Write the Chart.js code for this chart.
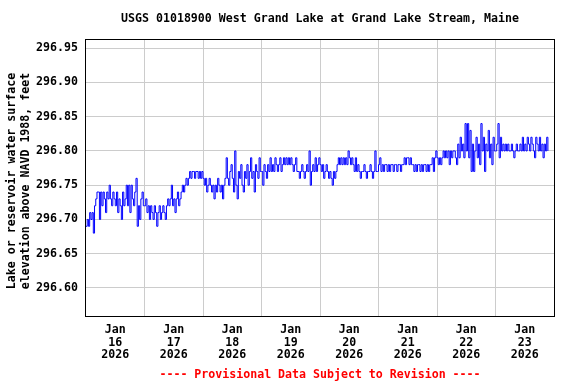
<!DOCTYPE html>
<html>
<head>
<meta charset="utf-8">
<script src="https://cdn.jsdelivr.net/npm/chart.js@4.4.1/dist/chart.umd.min.js"></script>
<style>
  html, body { margin: 0; padding: 0; background: #fff; }
  #wrap { width: 576px; height: 384px; }
</style>
</head>
<body>
<div id="wrap"><canvas id="chart" width="576" height="384"></canvas></div>
<script>
const titleText = 'USGS 01018900 West Grand Lake at Grand Lake Stream, Maine';
const yTitleLines = ['Lake or reservoir water surface', 'elevation above NAVD 1988, feet'];
const footerText = '---- Provisional Data Subject to Revision ----';

const monthLabel = 'Jan';
const yearLabel = '2026';
const dayLabels = ['16', '17', '18', '19', '20', '21', '22', '23'];
const yTicks = [296.60, 296.65, 296.70, 296.75, 296.80, 296.85, 296.90, 296.95];

// readings every half hour from midnight, in hundredths of a foot above 296 ft
const stepHours = 0.5;
const jan16 = [69, 70, 69, 71, 70, 71, 68, 72, 73, 74, 74, 70, 74, 72, 74, 73, 71, 74, 73, 75, 73,
  72, 74, 73, 72, 74, 71, 73, 72, 70, 74, 72, 73, 75, 72, 75, 71, 75, 73, 72, 74, 76, 69, 72, 70, 73, 74, 72];
const jan17 = [72, 73, 71, 72, 70, 72, 71, 70, 72, 71, 69, 71, 72, 70, 71, 72, 71, 70,
  72, 73, 72, 73, 75, 72, 73, 71, 73, 74, 72, 73, 74, 75, 74, 75, 76, 75, 76, 77, 76, 77,
  77, 76, 77, 77, 76, 77, 76, 77];
const jan18 = [76, 75, 76, 74, 75, 76, 75, 74, 75, 73, 75, 74, 76, 75, 74, 75, 73, 75, 76,
  79, 76, 75, 77, 78, 76, 74, 80, 75, 73, 77, 76, 78, 75, 74,
  77, 76, 78, 75, 77, 79, 76, 77, 74, 78, 77, 76, 79, 77];
const jan19 = [77, 75, 78, 77, 76, 78, 77, 79, 77, 78, 77, 79, 78, 77, 78, 79, 77, 78, 79, 78,
  79, 78, 79, 78, 79, 78, 77, 78, 79, 77,
  77, 76, 77, 78, 77, 76, 77, 78, 77, 80, 75, 77, 78, 77, 79, 77, 78, 79];
const jan20 = [78, 77, 78, 76, 77, 78, 77, 76, 77, 76, 75, 77, 76, 77, 78, 79, 78, 79, 78, 79, 78,
  79, 78, 80, 79, 78, 79, 78, 77, 79,
  77, 78, 77, 76, 77, 77, 78, 77, 76, 77, 77, 78, 77, 76, 77, 80, 77, 77];
const jan21 = [78, 79, 77, 78, 77, 78, 78, 77, 78, 77, 78, 78, 77, 78, 78, 77, 78, 78, 77, 78, 78,
  79, 78, 79, 79, 78, 79, 78,
  78, 77, 78, 77, 78, 78, 77, 78, 77, 78, 78, 77, 78, 77, 78, 78, 79, 77, 79, 80];
const jan22 = [79, 78, 79, 78, 79, 80, 79, 80, 79, 80, 78, 80, 79, 80, 80, 79, 78,
  81, 79, 82, 80, 81, 79, 84, 80, 84, 79, 83, 77, 81, 77, 80,
  82, 79, 81, 78, 84, 80, 82, 77, 81, 80, 83, 79, 81, 78, 82, 80];
const jan23 = [80, 81, 84, 79, 82, 80, 81, 80, 81, 80, 81, 80, 80, 81, 80, 79, 80, 81, 80, 80,
  81, 80, 82, 80, 81, 80, 82, 81, 80, 82, 81, 80, 79, 82, 81, 80, 82, 80, 81, 79, 81, 80, 82, 80];

const days = [jan16, jan17, jan18, jan19, jan20, jan21, jan22, jan23];

const points = [];
days.forEach((day, d) => {
  day.forEach((h, i) => {
    points.push({ x: d * 24 + i * stepHours, y: 296 + h / 100 });
  });
});

const fontFamily = '"DejaVu Sans Mono", "Liberation Mono", monospace';
const tickFont = { family: fontFamily, size: 11.6, weight: 'bold', lineHeight: 1.08 };

const frameAndText = {
  id: 'frameAndText',
  afterDraw(chart) {
    const { ctx, chartArea: a } = chart;
    const cx = (a.left + a.right) / 2;
    ctx.save();
    ctx.strokeStyle = '#000';
    ctx.lineWidth = 1;
    ctx.strokeRect(Math.round(a.left) - 0.5, Math.round(a.top) - 0.5,
      Math.round(a.right - a.left) + 1, Math.round(a.bottom - a.top) + 1);

    ctx.font = `bold 11.6px ${fontFamily}`;
    ctx.fillStyle = '#000';
    ctx.textAlign = 'center';
    ctx.textBaseline = 'middle';
    ctx.fillText(titleText, cx, 19);

    ctx.save();
    ctx.translate(0, 181);
    ctx.rotate(-Math.PI / 2);
    ctx.fillText(yTitleLines[0], 0, 12);
    ctx.fillText(yTitleLines[1], 0, 26);
    ctx.restore();

    ctx.fillStyle = '#ff0000';
    ctx.fillText(footerText, cx, 375);
    ctx.restore();
  }
};

new Chart(document.getElementById('chart'), {
  type: 'line',
  data: {
    datasets: [{
      data: points,
      borderColor: '#0000ff',
      borderWidth: 1,
      pointRadius: 0,
      stepped: true,
      fill: false
    }]
  },
  options: {
    responsive: false,
    animation: false,
    events: [],
    layout: { padding: { left: 0, right: 22, top: 40, bottom: 0 } },
    plugins: { legend: { display: false }, title: { display: false }, tooltip: { enabled: false } },
    scales: {
      x: {
        type: 'linear',
        min: 0,
        max: dayLabels.length * 24,
        afterBuildTicks: (scale) => {
          const t = [];
          for (let v = 0; v <= dayLabels.length * 24; v += 12) t.push({ value: v });
          scale.ticks = t;
        },
        afterFit: (scale) => { scale.height = 68; },
        border: { display: false },
        grid: {
          drawTicks: false,
          lineWidth: 1,
          color: (c) => {
            const v = c.tick ? c.tick.value : 0;
            return v % 24 === 0 && v > 0 && v < dayLabels.length * 24 ? '#cccccc' : 'rgba(0,0,0,0)';
          }
        },
        ticks: {
          autoSkip: false,
          maxRotation: 0,
          padding: 8,
          color: '#000',
          font: tickFont,
          callback: (v) => {
            if (v % 24 !== 12) return '';
            return [monthLabel, dayLabels[(v - 12) / 24], yearLabel];
          }
        }
      },
      y: {
        type: 'linear',
        min: 296.559,
        max: 296.962,
        afterBuildTicks: (scale) => { scale.ticks = yTicks.map((v) => ({ value: v })); },
        afterFit: (scale) => { scale.width = 86; },
        border: { display: false },
        grid: { drawTicks: false, color: '#cccccc', lineWidth: 1 },
        ticks: {
          padding: 8,
          color: '#000',
          font: tickFont,
          callback: (v) => Number(v).toFixed(2)
        }
      }
    }
  },
  plugins: [frameAndText]
});
</script>
</body>
</html>
